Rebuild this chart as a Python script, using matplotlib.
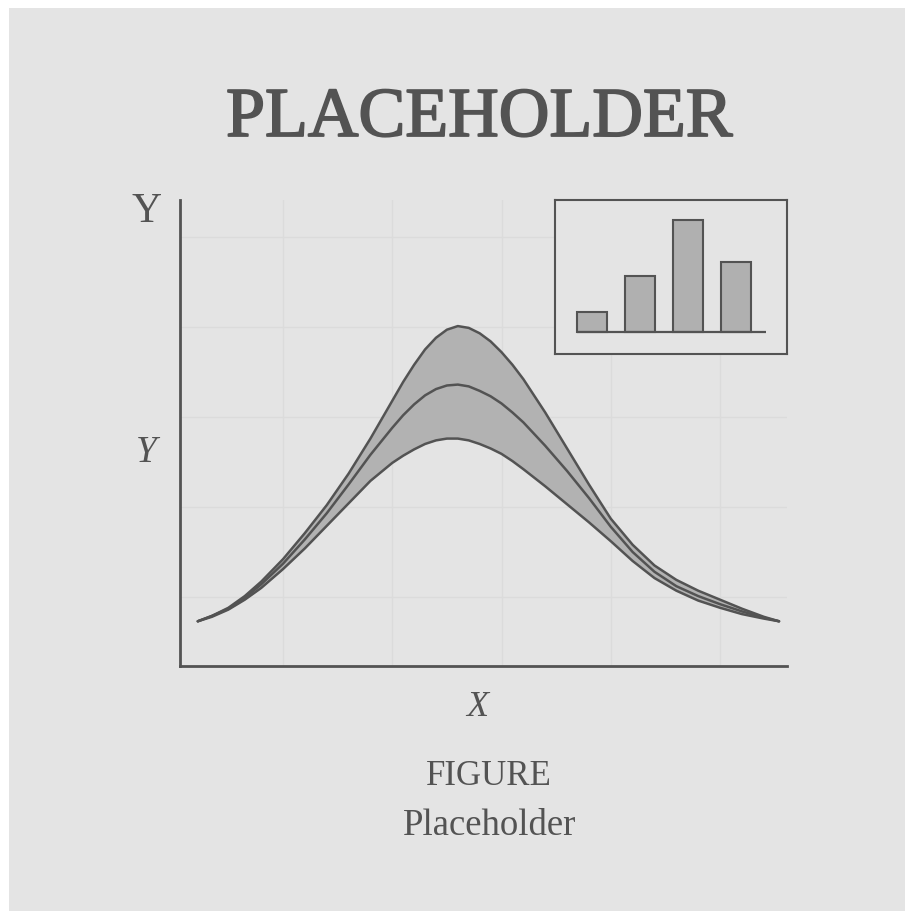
import matplotlib
matplotlib.use("Agg")
import matplotlib.pyplot as plt
import matplotlib.patheffects as pe
from matplotlib.patches import Rectangle

# ---------------- data ----------------
curve_x = [0.22, 0.35, 0.50, 0.65, 0.80, 1.00, 1.20, 1.40, 1.60, 1.80,
           2.00, 2.10, 2.20, 2.30, 2.40, 2.50, 2.60, 2.70, 2.80, 2.90,
           3.00, 3.10, 3.20, 3.40, 3.60, 3.80, 4.00, 4.20, 4.40, 4.60,
           4.80, 5.00, 5.20, 5.40, 5.54]
upper_y = [0.73, 0.79, 0.88, 1.01, 1.17, 1.42, 1.71, 2.02, 2.37, 2.76,
           3.18, 3.39, 3.58, 3.75, 3.88, 3.97, 4.01, 3.99, 3.93, 3.84,
           3.72, 3.58, 3.42, 3.05, 2.65, 2.25, 1.87, 1.58, 1.35, 1.19,
           1.07, 0.97, 0.87, 0.78, 0.73]
middle_y = [0.73, 0.79, 0.87, 0.99, 1.14, 1.37, 1.64, 1.93, 2.25, 2.58,
            2.88, 3.02, 3.14, 3.24, 3.31, 3.35, 3.36, 3.34, 3.29, 3.23,
            3.15, 3.05, 2.94, 2.68, 2.40, 2.10, 1.78, 1.50, 1.28, 1.12,
            1.01, 0.92, 0.84, 0.77, 0.73]
lower_y = [0.73, 0.78, 0.86, 0.97, 1.10, 1.31, 1.54, 1.79, 2.04, 2.29,
           2.49, 2.57, 2.64, 2.70, 2.74, 2.76, 2.76, 2.74, 2.70, 2.65,
           2.59, 2.51, 2.42, 2.23, 2.03, 1.83, 1.62, 1.40, 1.21, 1.07,
           0.96, 0.88, 0.81, 0.76, 0.73]

grid_x = [1, 2, 3, 4, 5]
grid_y = [1, 2, 3, 4, 5]

bar_pos = [0, 1, 2, 3]
bar_vals = [1.0, 2.8, 5.6, 3.5]

title_text = "PLACEHOLDER"
y_top_label = "Y"
y_mid_label = "Y"
x_label = "X"
caption_1 = "FIGURE"
caption_2 = "Placeholder"

# ---------------- style ----------------
BG = "#e4e4e4"
INK = "#535353"
FILL = "#b2b2b2"
GRID = "#dbdbdb"
SERIF = ["Liberation Serif", "DejaVu Serif"]

W, H = 905, 911
fig = plt.figure(figsize=(W / 100, H / 100), dpi=100, facecolor="white")
fig.patches.append(Rectangle((9 / W, 0), 1 - 9 / W, 1 - 8 / H, transform=fig.transFigure,
                             facecolor=BG, edgecolor="none", zorder=-10))

def fx(px):
    return px / W

def fy(py):
    return 1 - py / H

# main axes
ax = fig.add_axes([fx(180), fy(666), fx(787) - fx(180), fy(200) - fy(666)], zorder=1)
ax.set_facecolor("none")
ax.set_xlim(0.057, 5.613)
ax.set_ylim(0.233, 5.411)
ax.set_xticks(grid_x)
ax.set_yticks(grid_y)
ax.tick_params(length=0, labelbottom=False, labelleft=False)
ax.grid(True, color=GRID, lw=1.0)
ax.set_axisbelow(True)
for s in ("top", "right"):
    ax.spines[s].set_visible(False)
for s in ("left", "bottom"):
    ax.spines[s].set_color(INK)
    ax.spines[s].set_linewidth(2.0)

ax.fill_between(curve_x, lower_y, upper_y, color=FILL, lw=0, zorder=2)
for ys in (upper_y, middle_y, lower_y):
    ax.plot(curve_x, ys, color=INK, lw=1.8, zorder=3, solid_capstyle="round",
            solid_joinstyle="round")

# inset bar chart
ax_in = fig.add_axes([fx(555), fy(354), fx(787) - fx(555), fy(200) - fy(354)], zorder=2)
ax_in.set_facecolor(BG)
ax_in.set_xlim(-0.78, 4.07)
ax_in.set_ylim(-1.1, 6.6)
ax_in.set_xticks([])
ax_in.set_yticks([])
for s in ax_in.spines.values():
    s.set_color(INK)
    s.set_linewidth(1.5)
bw = 0.62
ax_in.bar(bar_pos, bar_vals, width=bw, color="#b0b0b0", edgecolor=INK, lw=1.5, zorder=2)
ax_in.hlines(0, bar_pos[0] - bw / 2, bar_pos[-1] + bw / 2 + 0.33, color=INK, lw=1.6, zorder=3)

# texts
stroke = [pe.withStroke(linewidth=1.3, foreground=INK)]
fig.text(fx(479), fy(136), title_text, ha="center", va="baseline", fontsize=50.5,
         family=SERIF, color=INK, zorder=5, path_effects=stroke)
fig.text(fx(146), fy(222), y_top_label, ha="center", va="baseline", fontsize=30,
         family=SERIF, color=INK, zorder=5)
fig.text(fx(146), fy(462), y_mid_label, ha="center", va="baseline", fontsize=27,
         family=SERIF, style="italic", color=INK, zorder=5)
fig.text(fx(477), fy(716), x_label, ha="center", va="baseline", fontsize=26,
         family=SERIF, style="italic", color=INK, zorder=5)
fig.text(fx(489), fy(785), caption_1, ha="center", va="baseline", fontsize=25,
         family=SERIF, color=INK, zorder=5)
fig.text(fx(490), fy(835), caption_2, ha="center", va="baseline", fontsize=26.5,
         family=SERIF, color=INK, zorder=5)

fig.savefig("out.png", dpi=100, facecolor="white")
